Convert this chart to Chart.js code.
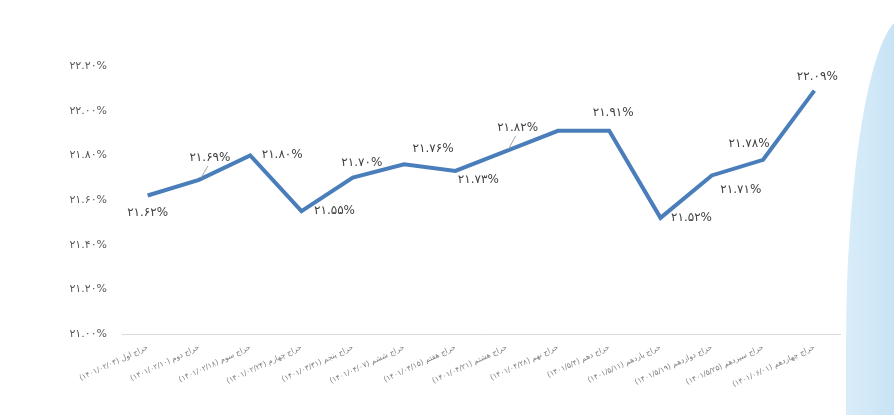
<!DOCTYPE html>
<html>
<head>
<meta charset="utf-8">
<script src="https://cdn.jsdelivr.net/npm/chart.js@4.4.0/dist/chart.umd.min.js"></script>
<style>
  html, body { margin: 0; padding: 0; background: #fff; }
  #wrap { position: relative; width: 894px; height: 415px; overflow: hidden; }
  #deco {
    position: absolute; left: 846px; top: 16px; width: 60px; height: 420px;
    background: linear-gradient(to right, #d9edf9, #c4e1f5);
    border-top-left-radius: 60px 330px;
  }
  #myChart { position: absolute; left: 0; top: 0; }
</style>
</head>
<body>
<div id="wrap">
  <div id="deco"></div>
  <canvas id="myChart" width="894" height="415"></canvas>
</div>
<script>
  const xValues = [
    "حراج اول (۱۴۰۱/۰۲/۰۳)",
    "حراج دوم (۱۴۰۱/۰۲/۱۰)",
    "حراج سوم (۱۴۰۱/۰۲/۱۸)",
    "حراج چهارم (۱۴۰۱/۰۲/۲۴)",
    "حراج پنجم (۱۴۰۱/۰۳/۳۱)",
    "حراج ششم (۱۴۰۱/۰۴/۰۷)",
    "حراج هفتم (۱۴۰۱/۰۴/۱۵)",
    "حراج هشتم (۱۴۰۱/۰۴/۲۱)",
    "حراج نهم (۱۴۰۱/۰۴/۲۸)",
    "حراج دهم (۱۴۰۱/۵/۴)",
    "حراج یازدهم (۱۴۰۱/۵/۱۱)",
    "حراج دوازدهم (۱۴۰۱/۵/۱۹)",
    "حراج سیزدهم (۱۴۰۱/۵/۲۵)",
    "حراج چهاردهم (۱۴۰۱/۰۶/۰۱)"
  ];
  const yValues = [21.62, 21.69, 21.80, 21.55, 21.70, 21.76, 21.73, 21.82, 21.91, 21.91, 21.52, 21.71, 21.78, 22.09];
  const yMin = 21.0, yMax = 22.2, yStep = 0.2;

  // label placement relative to each point: [dx, dy, leader line]; null = hidden
  const labelOffsets = [
    [0, 17], [11, -22, true], [32, 0], [33, 0], [9, -15], [29, -15], [23, 9],
    [11, -23, true], null, [4, -18], [31, 0], [29, 14], [-14, -16], [3, -14]
  ];

  const faDigits = "۰۱۲۳۴۵۶۷۸۹";
  function toFa(v) {
    return v.toFixed(2).replace(/\d/g, d => faDigits[d]) + "%";
  }

  const pointLabels = {
    id: "pointLabels",
    afterDatasetsDraw(chart) {
      const ctx = chart.ctx;
      const meta = chart.getDatasetMeta(0);
      ctx.save();
      ctx.font = "12px 'DejaVu Sans', sans-serif";
      ctx.fillStyle = "#404040";
      ctx.textAlign = "center";
      ctx.textBaseline = "middle";
      meta.data.forEach((pt, i) => {
        const off = labelOffsets[i];
        if (!off) return;
        const lx = pt.x + off[0], ly = pt.y + off[1];
        if (off[2]) {
          ctx.strokeStyle = "#a6a6a6";
          ctx.lineWidth = 1;
          ctx.beginPath();
          ctx.moveTo(pt.x + 2, pt.y - 2);
          ctx.lineTo(lx - 2, ly + 8);
          ctx.stroke();
        }
        ctx.fillText(toFa(yValues[i]), lx, ly);
      });
      ctx.restore();
    }
  };

  new Chart("myChart", {
    type: "line",
    data: {
      labels: xValues,
      datasets: [{
        data: yValues,
        borderColor: "#4a7ebb",
        borderWidth: 4,
        pointRadius: 0,
        tension: 0
      }]
    },
    options: {
      responsive: false,
      animation: false,
      layout: { padding: { top: 66, right: 54, left: 0, bottom: 0 } },
      plugins: {
        legend: { display: false },
        tooltip: { enabled: false }
      },
      scales: {
        x: {
          offset: true,
          grid: { display: false, drawTicks: false },
          border: { display: true, color: "#d9d9d9", width: 1 },
          ticks: {
            autoSkip: false,
            minRotation: 25,
            maxRotation: 25,
            padding: 9,
            color: "#7f7f7f",
            font: { size: 7.5, family: "'DejaVu Sans', sans-serif" }
          },
          afterFit(scale) { scale.height = 81; }
        },
        y: {
          min: yMin,
          max: yMax,
          grid: { display: false, drawTicks: false },
          border: { display: false },
          ticks: {
            stepSize: yStep,
            padding: 15,
            color: "#595959",
            font: { size: 11, family: "'DejaVu Sans', sans-serif" },
            callback: v => toFa(v)
          },
          afterFit(scale) { scale.width = 122; }
        }
      }
    },
    plugins: [pointLabels]
  });
</script>
</body>
</html>
